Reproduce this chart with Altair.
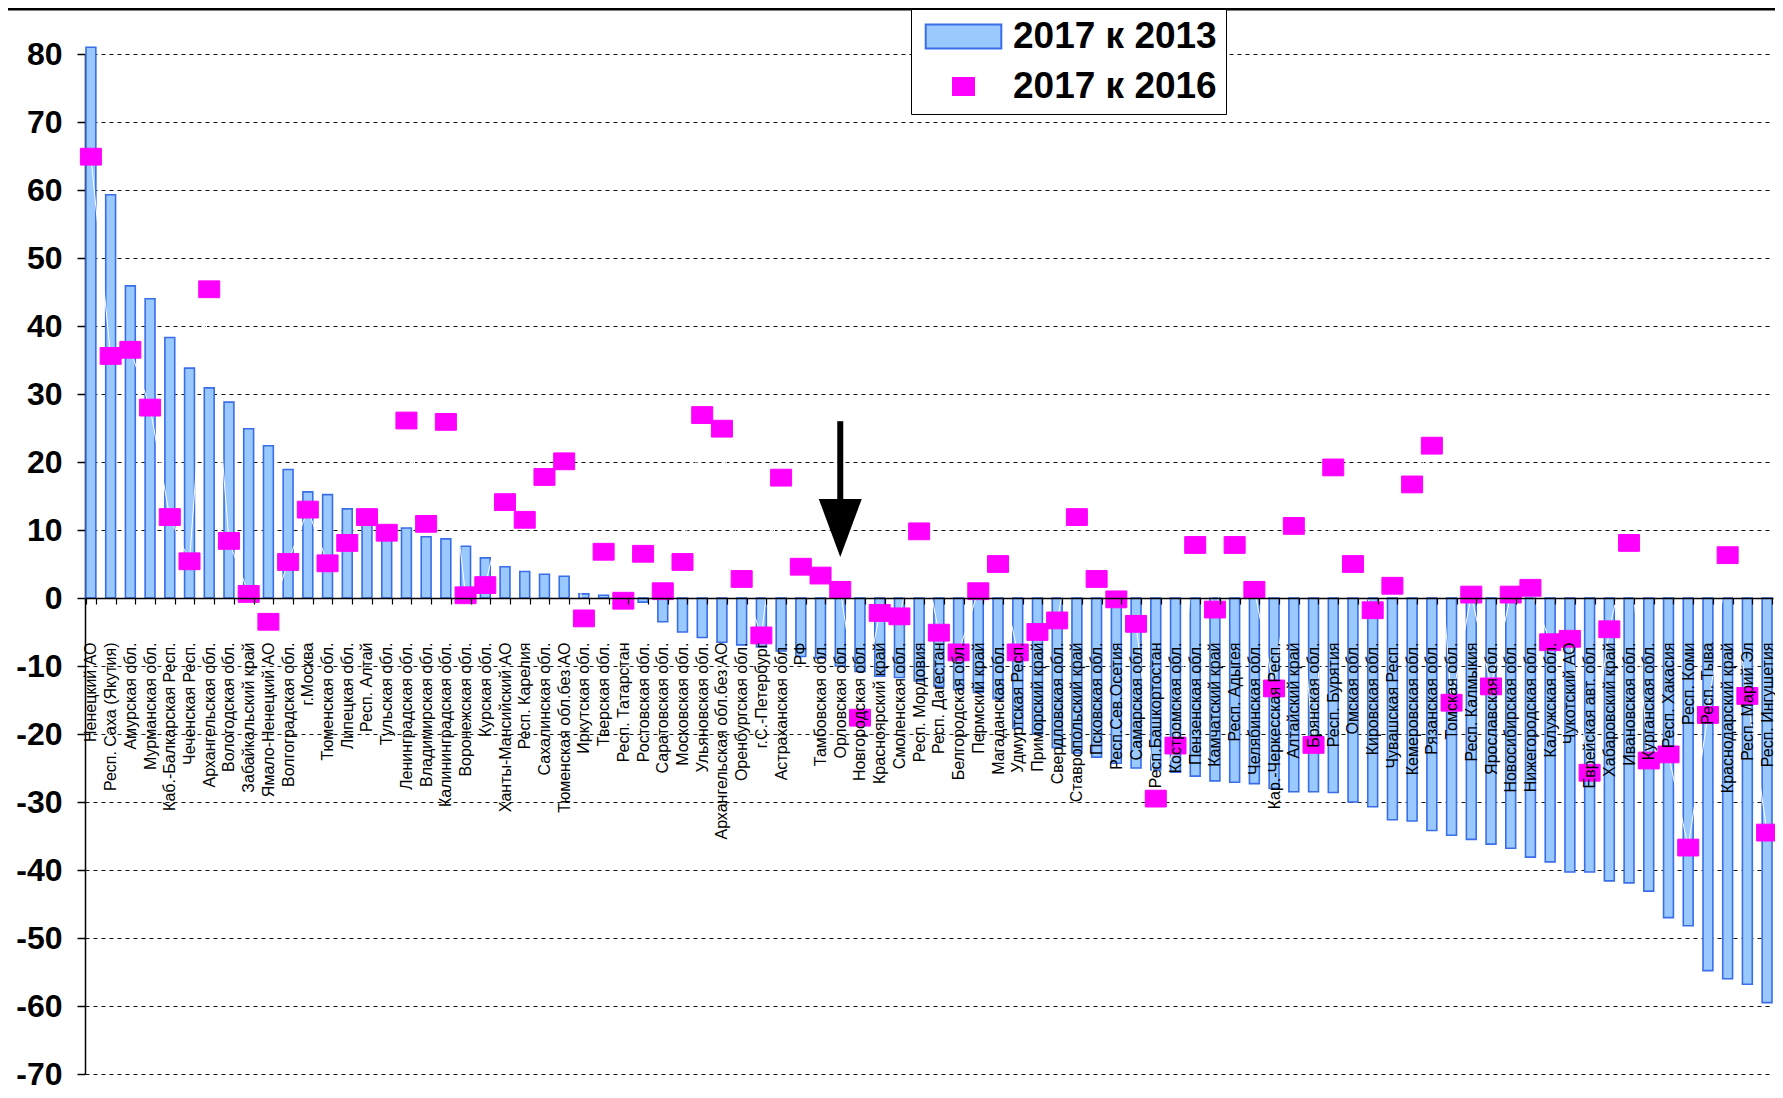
import altair as alt
import pandas as pd

regions = [
    "Ненецкий АО", "Респ. Саха (Якутия)", "Амурская обл.", "Мурманская обл.",
    "Каб.-Балкарская Респ.", "Чеченская Респ.", "Архангельская обл.", "Вологодская обл.",
    "Забайкальский край", "Ямало-Ненецкий АО", "Волгоградская обл.", "г.Москва",
    "Тюменская обл.", "Липецкая обл.", "Респ. Алтай", "Тульская обл.",
    "Ленинградская обл.", "Владимирская обл.", "Калининградская обл.", "Воронежская обл.",
    "Курская обл.", "Ханты-Мансийский АО", "Респ. Карелия", "Сахалинская обл.",
    "Тюменская обл.без АО", "Иркутская обл.", "Тверская обл.", "Респ. Татарстан",
    "Ростовская обл.", "Саратовская обл.", "Московская обл.", "Ульяновская обл.",
    "Архангельская обл.без АО", "Оренбургская обл.", "г.С.-Петербург", "Астраханская обл.",
    "РФ", "Тамбовская обл.", "Орловская обл.", "Новгородская обл.",
    "Красноярский край", "Смоленская обл.", "Респ. Мордовия", "Респ. Дагестан",
    "Белгородская обл.", "Пермский край", "Магаданская обл.", "Удмуртская Респ.",
    "Приморский край", "Свердловская обл.", "Ставропольский край", "Псковская обл.",
    "Респ.Сев.Осетия", "Самарская обл.", "Респ.Башкортостан", "Костромская обл.",
    "Пензенская обл.", "Камчатский край", "Респ. Адыгея", "Челябинская обл.",
    "Кар.-Черкесская Респ.", "Алтайский край", "Брянская обл.", "Респ. Бурятия",
    "Омская обл.", "Кировская обл.", "Чувашская Респ.", "Кемеровская обл.",
    "Рязанская обл.", "Томская обл.", "Респ. Калмыкия", "Ярославская обл.",
    "Новосибирская обл.", "Нижегородская обл.", "Калужская обл.", "Чукотский АО",
    "Еврейская авт. обл.", "Хабаровский край", "Ивановская обл.", "Курганская обл.",
    "Респ. Хакасия", "Респ. Коми", "Респ. Тыва", "Краснодарский край",
    "Респ. Марий Эл", "Респ. Ингушетия",
]

v2017_2013 = [
    81, 59.3, 45.9, 44, 38.3, 33.8, 30.9, 28.8, 24.9, 22.4,
    18.9, 15.6, 15.2, 13.1, 12.2, 10.6, 10.3, 9.0, 8.7, 7.6,
    5.9, 4.6, 3.9, 3.5, 3.2, 0.6, 0.4, -0.3, -0.6, -3.5,
    -5.0, -5.8, -6.5, -6.9, -7.2, -7.8, -8.6, -8.8, -10.0, -10.8,
    -11.5, -11.7, -12.2, -13.0, -13.5, -13.9, -14.8, -19.2, -20.0, -22.0,
    -22.8, -23.4, -24.3, -25.0, -25.3, -25.6, -26.2, -26.9, -27.1, -27.3,
    -28.0, -28.5, -28.5, -28.6, -30.0, -30.7, -32.6, -32.8, -34.2, -34.9,
    -35.5, -36.2, -36.8, -38.1, -38.8, -40.3, -40.3, -41.6, -41.9, -43.1,
    -47.0, -48.2, -54.8, -56.0, -56.8, -59.5,
]

v2017_2016 = [
    64.9, 35.6, 36.5, 28.0, 11.9, 5.4, 45.4, 8.4, 0.6, -3.5,
    5.3, 13.0, 5.1, 8.1, 11.9, 9.6, 26.1, 10.9, 25.9, 0.4,
    1.9, 14.1, 11.5, 17.8, 20.1, -3.0, 6.8, -0.4, 6.5, 1.0,
    5.3, 26.9, 24.9, 2.8, -5.5, 17.7, 4.6, 3.3, 1.2, -17.6,
    -2.2, -2.7, 9.8, -5.1, -8.0, 1.0, 5.0, -8.0, -5.0, -3.3,
    11.9, 2.8, -0.2, -3.8, -29.5, -21.7, 7.8, -1.7, 7.8, 1.2,
    -13.3, 10.6, -21.6, 19.2, 5.0, -1.8, 1.8, 16.7, 22.4, -15.4,
    0.5, -13.0, 0.5, 1.5, -6.5, -6.0, -25.7, -4.6, 8.1, -23.9,
    -23.0, -36.7, -17.2, 6.3, -14.4, -34.5,
]

series_names = ["2017 к 2013", "2017 к 2016"]
y_ticks = list(range(-70, 81, 10))

arrow_region = ["Орловская обл."]
arrow_top = [26.0]
arrow_base = [13.0]
arrow_head = [10.3]

df = pd.DataFrame({
    "region": regions,
    "idx": list(range(len(regions))),
    "v13": v2017_2013,
    "v16": v2017_2016,
    "series": series_names[1],
})
arrow_df = pd.DataFrame({"region": arrow_region, "top": arrow_top,
                         "base": arrow_base, "head": arrow_head})

W, H = 1688, 1020
PAD_TOP = 46
ymin, ymax = -70, 80
zero_px = H * (ymax - 0) / (ymax - ymin)
x_offset = -(H - zero_px)

FONT = "Liberation Sans"
BAR_FILL = "#99c9ff"
BAR_STROKE = "#3a6ee8"
MAGENTA = "#ff00ff"

BAR_SWATCH = "M-3.6,-1.15H3.6V1.15H-3.6Z"
MARKER = "M-1,-0.8H1V0.8H-1Z"

x_enc = alt.X(
    "region:N", sort=regions, title=None,
    scale=alt.Scale(paddingInner=0.5, paddingOuter=0.05),
    axis=alt.Axis(
        labelAngle=-90, labelFont=FONT, labelFontSize=16, labelColor="black",
        labelLimit=0, labelPadding=38, offset=x_offset, tickBand="extent",
        tickSize=6, tickColor="black", tickWidth=1.2, zindex=1,
        domainColor="black", domainWidth=1.5, grid=False, labelOverlap=False,
    ),
)

y_axis = alt.Axis(
    values=y_ticks, title=None, labelFont=FONT, labelFontSize=32,
    labelFontWeight="bold", labelColor="black", labelExpr="'' + datum.value",
    labelPadding=15, tickSize=8, tickColor="black", tickWidth=1.5,
    domainColor="black", domainWidth=1.5,
    grid=True, gridColor="#111111", gridDash=[4, 4], gridWidth=1,
)
y_scale = alt.Scale(domain=[ymin, ymax], nice=False, zero=False)

legend = alt.Legend(
    title=None, orient="none", legendX=826, legendY=1 - PAD_TOP,
    labelFont=FONT, labelFontSize=37, labelFontWeight="bold", labelColor="black",
    labelLimit=0, symbolSize=441, symbolOffset=25, labelOffset=31,
    symbolStrokeWidth=2, symbolOpacity=1,
    padding=9, rowPadding=12, strokeColor="black", fillColor="white",
    cornerRadius=0,
)

color_scale = alt.Scale(domain=series_names, range=[BAR_FILL, MAGENTA])
shape_scale = alt.Scale(domain=series_names, range=[BAR_SWATCH, MARKER])
stroke_scale = alt.Scale(domain=series_names, range=[BAR_STROKE, MAGENTA])

base = alt.Chart(df)

bars = base.mark_bar(fill=BAR_FILL, stroke=BAR_STROKE, strokeWidth=1.6).encode(
    x=x_enc,
    y=alt.Y("v13:Q", scale=y_scale, axis=y_axis),
)

link = base.mark_line(color="white", strokeWidth=1).encode(
    x=x_enc,
    y=alt.Y("v16:Q", scale=y_scale, axis=y_axis),
    order=alt.Order("idx:Q"),
)

points = base.mark_point(
    filled=True, size=441, opacity=1, strokeWidth=1,
).encode(
    x=x_enc,
    y=alt.Y("v16:Q", scale=y_scale, axis=y_axis),
    color=alt.Color("series:N", scale=color_scale, legend=legend),
    shape=alt.Shape("series:N", scale=shape_scale, legend=legend),
    stroke=alt.Stroke("series:N", scale=stroke_scale, legend=legend),
)

arrow_shaft = alt.Chart(arrow_df).mark_rule(color="black", strokeWidth=6).encode(
    x=x_enc,
    y=alt.Y("top:Q", scale=y_scale, axis=y_axis),
    y2="base:Q",
)
arrow_tip = alt.Chart(arrow_df).mark_point(
    filled=True, color="black", opacity=1,
    shape="M-1,-1.35L1,-1.35L0,1.35Z", size=1849,
).encode(
    x=x_enc,
    y=alt.Y("head:Q", scale=y_scale, axis=y_axis),
)

top_border = alt.Chart(arrow_df).mark_rule(color="black", strokeWidth=2.5).encode(
    x=alt.value(-90), x2=alt.value(W + 20), y=alt.value(1.25 - PAD_TOP),
)

chart = alt.layer(bars, link, points, arrow_shaft, arrow_tip, top_border).properties(
    width=W, height=H,
    autosize=alt.AutoSizeParams(type="none"),
    padding={"left": 77, "top": PAD_TOP, "right": 2, "bottom": 16},
    background="white",
).configure_view(stroke=None)

chart.save("out.html", embed_options={"renderer": "svg", "actions": False})
